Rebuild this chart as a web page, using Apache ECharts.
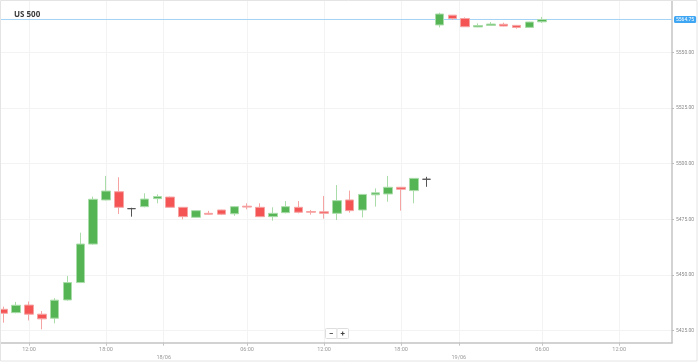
<!DOCTYPE html>
<html>
<head>
<meta charset="utf-8">
<script src="https://cdn.jsdelivr.net/npm/echarts@6/dist/echarts.min.js"></script>
<style>html,body{margin:0;padding:0;background:#fff;}#c{width:698px;height:362px;}</style>
</head>
<body>
<div id="c"></div>
<script>
// Hourly candle times (index = x position on the axis)
const times = [
  '17/06 10:00','17/06 11:00','17/06 12:00','17/06 13:00','17/06 14:00','17/06 15:00','17/06 16:00',
  '17/06 17:00','17/06 18:00','17/06 19:00','17/06 20:00','17/06 21:00','17/06 22:00',
  '18/06 00:00','18/06 01:00','18/06 02:00','18/06 03:00','18/06 04:00','18/06 05:00','18/06 06:00',
  '18/06 07:00','18/06 08:00','18/06 09:00','18/06 10:00','18/06 11:00','18/06 12:00','18/06 13:00',
  '18/06 14:00','18/06 15:00','18/06 16:00','18/06 17:00','18/06 18:00','18/06 19:00','18/06 20:00',
  '18/06 21:00','18/06 22:00',
  '19/06 00:00','19/06 01:00','19/06 02:00','19/06 03:00','19/06 04:00','19/06 05:00','19/06 06:00'
];
const opens  = [5434.6,5433.1,5436.5,5432.4,5430.6,5438.8,5446.6,5463.9,5483.7,5487.4,5479.8,5480.7,5484.3,
  5485.0,5480.4,5475.9,5477.7,5479.2,5477.5,5480.9,5480.4,5476.2,5478.0,5480.4,5478.5,5478.4,5477.7,
  5483.7,5479.2,5486.0,5486.4,5489.4,5487.9,5493.0,5562.3,5566.7,5565.2,5561.4,5562.1,5562.6,5562.1,5561.2,5563.7];
const closes = [5432.8,5436.4,5432.4,5430.3,5438.7,5446.6,5463.9,5484.0,5487.7,5480.4,5479.8,5484.1,5485.2,
  5480.4,5476.2,5478.9,5477.3,5477.3,5480.7,5480.5,5476.2,5477.7,5480.7,5478.2,5478.2,5477.7,5483.4,
  5478.9,5486.2,5486.9,5489.4,5488.5,5493.4,5493.0,5567.2,5565.2,5561.5,5562.0,5562.7,5561.8,5561.2,5563.6,5564.75];
const lows   = [5428.6,5432.8,5429.6,5425.6,5428.3,5438.5,5446.4,5463.6,5483.5,5477.4,5476.2,5480.4,5482.2,
  5480.2,5475.0,5475.6,5477.0,5476.9,5476.6,5479.5,5476.0,5474.4,5477.7,5477.7,5477.1,5475.3,5474.7,
  5478.0,5475.9,5480.7,5482.9,5478.9,5482.2,5489.6,5561.2,5564.5,5561.4,5561.3,5561.9,5561.7,5560.6,5561.0,5563.2];
const highs  = [5435.8,5437.9,5438.1,5433.8,5439.6,5449.6,5469.0,5485.2,5494.5,5493.9,5480.2,5486.7,5486.2,
  5485.2,5480.5,5479.2,5478.8,5479.3,5481.0,5482.2,5482.2,5480.4,5483.2,5483.2,5479.2,5485.5,5490.4,
  5487.9,5486.3,5488.9,5494.5,5489.4,5493.5,5494.1,5567.8,5566.7,5565.7,5563.0,5563.6,5563.3,5562.1,5563.7,5565.9];

// Axis ticks (values on the axes)
const timeTickIndex = [2, 8, 19, 25, 31, 42, 48];
const timeTickText  = ['12:00','18:00','06:00','12:00','18:00','06:00','12:00'];
const dateTickIndex = [12.5, 35.5];
const dateTickText  = ['18/06','19/06'];
const yTicks = [5425, 5450, 5475, 5500, 5525, 5550];
const xMin = -0.26, xMax = 52.12;
const yMin = 5419.6, yMax = 5573.5;

const lastPrice = closes[closes.length - 1];
const candleData = times.map((t, i) => [i, opens[i], closes[i], lows[i], highs[i]]);
const priceLineData = [[xMin, lastPrice], [xMax, lastPrice]];

const chart = echarts.init(document.getElementById('c'), null, {renderer: 'canvas'});
const lblFont = 'Roboto, "Open Sans", sans-serif';
const priceLineColor = '#a3d2f5';

chart.setOption({
  animation: false,
  backgroundColor: '#fff',
  color: [priceLineColor, '#55b555'],
  title: {
    text: 'US 500', left: 9, top: 6,
    textStyle: {fontSize: 8, fontWeight: 'bold', color: '#3a3a3a', fontFamily: '"Open Sans", sans-serif'}
  },
  grid: {left: 0, right: 26, top: 0, bottom: 19.3},
  xAxis: [{
    type: 'value', min: xMin, max: xMax,
    axisLine: {show: true, onZero: false, lineStyle: {color: '#c4c4c4', width: 1.5}},
    axisTick: {show: true, length: 3, customValues: timeTickIndex.concat(dateTickIndex), lineStyle: {color: '#c4c4c4'}},
    splitLine: {show: true, lineStyle: {color: '#f3f3f3', width: 1}},
    axisLabel: {
      customValues: timeTickIndex, margin: 4, fontSize: 5.5, color: '#9a9a9a', fontFamily: lblFont,
      formatter: v => { const k = timeTickIndex.indexOf(v); return k >= 0 ? timeTickText[k] : ''; }
    }
  }, {
    type: 'value', min: xMin, max: xMax, position: 'bottom', offset: 8,
    axisLine: {show: false}, axisTick: {show: false}, splitLine: {show: false},
    axisLabel: {
      customValues: dateTickIndex, margin: 4, fontSize: 5.5, color: '#9a9a9a', fontFamily: lblFont,
      formatter: v => { const k = dateTickIndex.indexOf(v); return k >= 0 ? dateTickText[k] : ''; }
    }
  }],
  yAxis: {
    type: 'value', position: 'right', min: yMin, max: yMax, scale: true,
    axisLine: {show: true, onZero: false, lineStyle: {color: '#c4c4c4', width: 1.5}},
    axisTick: {show: true, length: 2, customValues: yTicks, lineStyle: {color: '#bbb'}},
    splitLine: {show: true, lineStyle: {color: '#f3f3f3', width: 1}},
    axisLabel: {
      customValues: yTicks, margin: 4, fontSize: 5, color: '#8a8a8a', fontFamily: lblFont,
      formatter: v => v.toFixed(2)
    }
  },
  series: [{
    type: 'line',
    xAxisIndex: 0,
    data: priceLineData,
    symbol: 'none', silent: true, z: 1,
    lineStyle: {color: priceLineColor, width: 1, opacity: 1},
    itemStyle: {color: priceLineColor},
    endLabel: {
      show: true, distance: 2,
      formatter: () => lastPrice.toFixed(2),
      color: '#fff', fontSize: 5, fontFamily: lblFont,
      backgroundColor: '#3fa6f3', padding: [1, 2, 1, 2], borderRadius: 1.5
    }
  }, {
    type: 'candlestick',
    xAxisIndex: 0,
    data: candleData,
    encode: {x: 0, y: [1, 2, 3, 4]},
    barWidth: 9, z: 3,
    itemStyle: {
      color: '#55b555', color0: '#f45454',
      borderColor: '#a9dca9', borderColor0: '#f6a3a3',
      borderColorDoji: '#555555', borderWidth: 1
    }
  }],
  graphic: [
    {type: 'rect', shape: {x: 0.5, y: 0.5, width: 696.5, height: 360.5}, style: {fill: 'none', stroke: '#e4e4e4', lineWidth: 1}, silent: true, z: 100},
    {type: 'rect', shape: {x: 325.5, y: 328.5, width: 11.5, height: 10, r: 1}, style: {fill: '#fff', stroke: '#dedede', lineWidth: 1}, z: 100},
    {type: 'rect', shape: {x: 337, y: 328.5, width: 11.5, height: 10, r: 1}, style: {fill: '#fff', stroke: '#dedede', lineWidth: 1}, z: 100},
    {type: 'text', x: 331.2, y: 333.5, style: {text: '−', fontSize: 8, fontWeight: 'bold', fill: '#444', align: 'center', verticalAlign: 'middle', fontFamily: lblFont}, z: 101},
    {type: 'text', x: 342.8, y: 333.5, style: {text: '+', fontSize: 8, fontWeight: 'bold', fill: '#444', align: 'center', verticalAlign: 'middle', fontFamily: lblFont}, z: 101}
  ]
});
</script>
</body>
</html>
